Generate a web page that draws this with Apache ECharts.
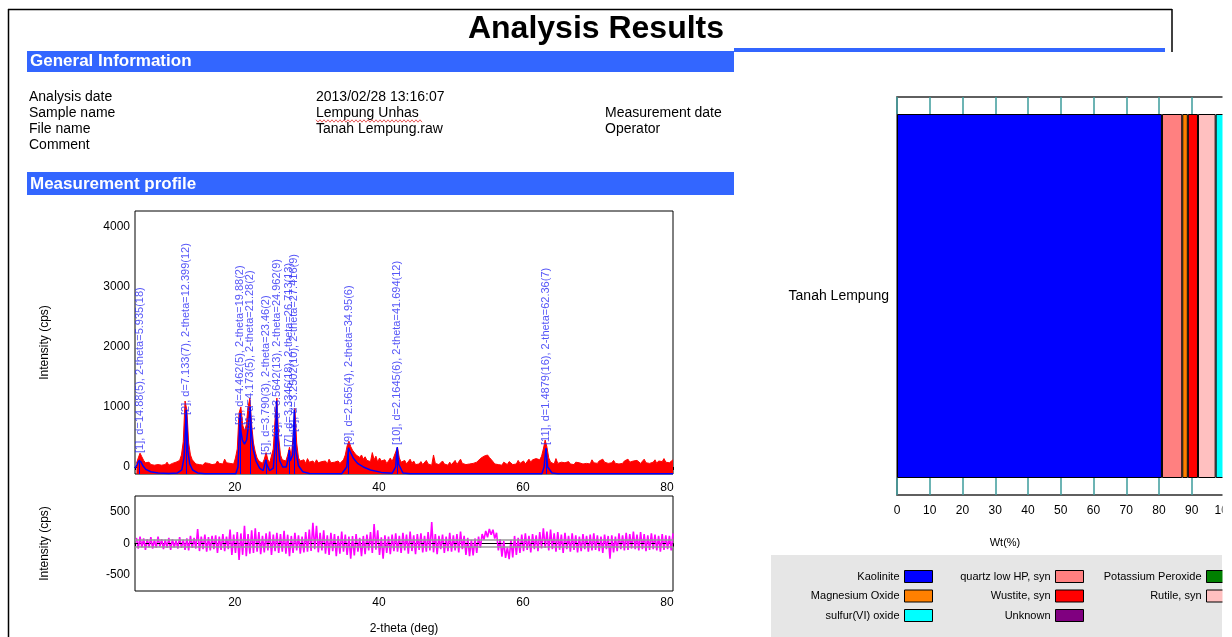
<!DOCTYPE html>
<html><head><meta charset="utf-8">
<script src="https://cdn.jsdelivr.net/npm/echarts@6/dist/echarts.min.js"></script>
<style>html,body{margin:0;padding:0;background:#fff}#c{width:1232px;height:637px}</style>
</head><body><div id="c"></div>
<script>
// ---------- DATA ----------
const startAngle = 5.5, stepAngle = 0.25;   // 2-theta of first sample and step (deg)
const observed = [
 60,150,230,170,110,70,60,80,40,70,30,60,40,70,30,50,
 40,80,30,50,60,40,80,60,110,200,420,1100,950,400,200,120,
 90,50,80,40,60,30,70,40,60,90,40,60,50,100,60,80,
 50,130,70,40,60,90,50,150,300,900,1000,700,600,700,1000,1150,
 700,400,250,150,100,80,60,130,240,120,70,100,300,800,1150,500,
 200,120,150,100,200,330,180,500,980,400,150,100,80,120,60,140,
 80,50,100,60,120,70,50,90,60,100,50,130,70,40,80,50,
 100,60,90,120,200,350,430,340,280,250,200,230,160,200,130,170,
 110,140,90,240,120,180,80,150,100,70,120,60,100,150,90,120,
 250,330,150,80,60,110,50,80,130,60,100,40,70,50,90,40,
 60,110,50,70,30,200,60,90,40,60,100,50,70,30,80,40,
 60,110,40,70,130,60,90,40,60,50,30,60,40,80,100,140,
 120,180,150,200,160,130,90,50,70,40,60,30,80,50,40,90,
 60,40,70,50,110,60,80,100,50,90,130,80,120,90,140,110,
 120,180,300,450,330,150,80,90,50,140,60,40,80,50,70,40,
 90,50,60,40,80,50,70,100,50,80,60,90,50,120,70,90,
 60,100,70,130,80,100,60,90,70,110,60,90,50,80,60,100,
 70,130,80,60,100,70,110,80,60,90,130,70,100,60,90,80,
 120,60,100,70,90,140,80,110,70,100,120
];
const residual = [
 90,-80,110,-60,80,-100,70,-60,100,-80,60,-70,110,-50,70,-90,
 60,-70,90,-100,70,-60,50,-80,100,-70,60,-100,80,-110,120,-70,
 90,-80,230,-120,110,-90,140,-130,100,-110,120,-90,130,-150,110,-100,
 150,-120,110,-90,220,-180,140,-150,180,-260,160,-180,280,-200,150,-160,
 210,-150,240,-130,180,-170,120,-140,160,-110,190,-180,140,-120,170,-150,
 150,-130,200,-160,140,-200,120,-150,170,-110,130,-160,110,-140,180,-130,
 220,-120,330,-90,280,-140,170,-110,210,-160,130,-180,170,-120,150,-200,
 120,-160,190,-130,140,-180,110,-240,120,-190,150,-130,90,-200,120,-170,
 140,-110,180,-150,310,-100,210,-180,100,-240,130,-150,110,-170,140,-120,
 160,-130,120,-150,170,-110,140,-160,190,-120,130,-170,150,-100,160,-140,
 120,-130,180,-110,340,-140,150,-170,120,-90,140,-150,110,-120,170,-130,
 130,-110,150,-140,190,-90,120,-180,90,-200,60,-190,80,-150,110,-70,
 150,60,200,100,230,140,220,80,170,-110,70,-210,40,-230,-60,-250,
 60,-220,120,-180,90,-150,140,-120,160,-100,120,-140,150,-90,130,-120,
 180,-80,240,-70,190,-110,220,-90,160,-130,180,-100,140,-150,170,-90,
 120,-130,160,-100,130,-140,110,-120,150,-90,120,-130,140,-110,160,-100,
 130,-120,110,-150,140,-90,120,-240,130,-140,110,-120,160,-90,130,-110,
 170,-100,150,-80,190,-90,140,-110,180,-90,150,-120,130,-100,160,-90,
 140,-110,120,-130,150,-100,130,-90,120,-110,160
];
const calcProfile = [
 [5.3,-20],[5.6,40],[5.8,100],[5.95,120],[6.1,90],[6.4,20],[6.8,-40],[7.5,-80],[8.5,-100],[10,-110],
 [11.2,-100],[11.8,-50],[12.1,150],[12.3,600],[12.4,950],[12.5,700],[12.65,250],[12.9,50],[13.3,-50],[14,-100],
 [15,-112],[19.3,-112],[19.6,0],[19.8,600],[19.88,900],[20.0,600],[20.2,450],[20.5,380],[20.8,450],[21.1,750],
 [21.28,1000],[21.45,600],[21.7,300],[22.1,100],[22.6,-20],[23.1,-60],[23.35,60],[23.46,120],[23.6,40],[24.0,-60],
 [24.5,-20],[24.8,400],[24.96,1100],[25.1,500],[25.4,100],[25.8,0],[26.3,0],[26.6,150],[26.71,280],[26.85,100],
 [27.2,200],[27.416,950],[27.6,300],[28.0,20],[28.6,-80],[29.5,-110],[34,-112],[34.7,0],[34.95,320],[35.2,250],
 [35.6,150],[36.2,60],[37,0],[38,-50],[39.5,-90],[41,-105],[41.5,0],[41.694,330],[41.9,50],[42.5,-100],
 [43.5,-112],[61.8,-112],[62.1,0],[62.36,310],[62.6,0],[63.2,-100],[64,-112],[80,-112]
];
const peakAngles = [5.935,12.399,19.88,21.28,23.46,24.962,26.713,27.416,34.95,41.694,62.36];
const peakTops   = [120,950,900,1000,120,1100,280,950,320,330,310];
const peakLabelBase = [233,867,700,617,200,500,333,583,367,367,367];
const peakLabels = [
 '[1], d=14.88(5), 2-theta=5.935(18)',
 '[2], d=7.133(7), 2-theta=12.399(12)',
 '[3], d=4.462(5), 2-theta=19.88(2)',
 '[4], d=4.173(5), 2-theta=21.28(2)',
 '[5], d=3.790(3), 2-theta=23.46(2)',
 '[6], d=3.5642(13), 2-theta=24.962(9)',
 '[7], d=3.3346(18), 2-theta=26.713(13)',
 '[8], d=3.2502(10), 2-theta=27.416(9)',
 '[9], d=2.565(4), 2-theta=34.95(6)',
 '[10], d=2.1645(6), 2-theta=41.694(12)',
 '[11], d=1.4879(16), 2-theta=62.36(7)'
];
const residualBand = [-55, 55];
const sampleNames = ['Tanah Lempung'];
const phases = ['Kaolinite','quartz low HP, syn','Magnesium Oxide','Wustite, syn','Rutile, syn','sulfur(VI) oxide','Potassium Peroxide','Unknown'];
const phaseWt = [80.9, 6.2, 1.7, 3.1, 5.4, 2.7, 0, 0];
const phaseColors = ['#0000ff','#ff8080','#ff8000','#ff0000','#ffc0c0','#00ffff','#008000','#800080'];
const legendCols = [
 ['Kaolinite','Magnesium Oxide','sulfur(VI) oxide'],
 ['quartz low HP, syn','Wustite, syn','Unknown'],
 ['Potassium Peroxide','Rutile, syn']
];
const infoLabels = ['Analysis date','Sample name','File name','Comment'];
const infoValues = ['2013/02/28 13:16:07','Lempung Unhas','Tanah Lempung.raw'];
const infoLabels2 = ['','Measurement date','Operator'];

// ---------- CHART ----------
const FONT = '"Liberation Sans", Arial, Helvetica, sans-serif';
const MAIN_MIN = -117, MAIN_MAX = 4267;
const obsPairs = observed.map((v,i)=>[startAngle + i*stepAngle, v]);
const resPairs = residual.map((v,i)=>[startAngle + i*stepAngle, v]);

const BLUE = '#3366ff';
const g = [];
g.push({type:'line', shape:{x1:8,y1:9.5,x2:1172,y2:9.5}, style:{stroke:'#000',lineWidth:1.5}});
g.push({type:'line', shape:{x1:8.5,y1:9,x2:8.5,y2:637}, style:{stroke:'#000',lineWidth:1.5}});
g.push({type:'line', shape:{x1:1172,y1:9,x2:1172,y2:52}, style:{stroke:'#000',lineWidth:1.5}});
g.push({type:'text', x:596, y:29, style:{text:'Analysis Results', font:'bold 32px '+FONT, textAlign:'center', textVerticalAlign:'middle', align:'center', verticalAlign:'middle', fill:'#000'}});
g.push({type:'rect', shape:{x:734,y:48,width:431,height:4}, style:{fill:BLUE}});
g.push({type:'rect', shape:{x:27,y:51,width:707,height:21}, style:{fill:BLUE}});
g.push({type:'text', x:30, y:61.5, style:{text:'General Information', font:'bold 17px '+FONT, textVerticalAlign:'middle', verticalAlign:'middle', fill:'#fff'}});
g.push({type:'rect', shape:{x:27,y:172,width:707,height:23}, style:{fill:BLUE}});
g.push({type:'text', x:30, y:184, style:{text:'Measurement profile', font:'bold 17px '+FONT, textVerticalAlign:'middle', verticalAlign:'middle', fill:'#fff'}});
infoLabels.forEach((t,i)=>g.push({type:'text', x:29, y:97+16*i, style:{text:t, font:'14px '+FONT, textVerticalAlign:'middle', verticalAlign:'middle', fill:'#000'}}));
infoValues.forEach((t,i)=>g.push({type:'text', x:316, y:97+16*i, style:{text:t, font:'14px '+FONT, textVerticalAlign:'middle', verticalAlign:'middle', fill:'#000'}}));
infoLabels2.forEach((t,i)=>g.push({type:'text', x:605, y:97+16*i, style:{text:t, font:'14px '+FONT, textVerticalAlign:'middle', verticalAlign:'middle', fill:'#000'}}));
// spell-check squiggle under sample name
const sq = []; for (let x=316, k=0; x<=422; x+=2, k++) sq.push([x, 121 + (k%2 ? 1.2 : -1.2)]);
g.push({type:'polyline', shape:{points:sq}, style:{stroke:'#e03030', lineWidth:0.8, fill:null}});
// legend background
g.push({type:'rect', shape:{x:771,y:555,width:451,height:82}, style:{fill:'#e6e6e6'}, z:0});
// weight axis title
g.push({type:'text', x:1005, y:543, style:{text:'Wt(%)', font:'11px '+FONT, textAlign:'center', textVerticalAlign:'middle', align:'center', verticalAlign:'middle', fill:'#000'}});
// right side crop
g.push({type:'rect', shape:{x:1222.5,y:53,width:12,height:584}, style:{fill:'#fff'}, z:100});

const axisText = {color:'#000', fontSize:12, fontFamily:FONT};

const series = [
 {type:'line', name:'obs', xAxisIndex:0, yAxisIndex:0, data:obsPairs, symbol:'none', z:2,
  lineStyle:{color:'#ff0000', width:1}, areaStyle:{color:'#ff0000', opacity:1, origin:'start'}},
 {type:'line', name:'calc', xAxisIndex:0, yAxisIndex:0, data:calcProfile, symbol:'none', z:3,
  lineStyle:{color:'#0000ff', width:1.5},
  markLine:{silent:true, symbol:['none','none'], label:{show:false}, lineStyle:{color:'#0000ff', width:1, type:'solid'},
   data: peakAngles.map((a,i)=>[{coord:[a, MAIN_MIN]},{coord:[a, peakTops[i]]}])}},
 {type:'scatter', name:'peaks', xAxisIndex:0, yAxisIndex:0, symbolSize:1, itemStyle:{color:'rgba(0,0,0,0)'}, z:4,
  data: peakAngles.map((a,i)=>[a, peakLabelBase[i]]),
  label:{show:true, position:'inside', rotate:90, align:'left', verticalAlign:'middle', color:'#2a2af5', fontSize:11, fontFamily:FONT,
   formatter: p => peakLabels[p.dataIndex]}},
 {type:'line', name:'res', xAxisIndex:1, yAxisIndex:1, data:resPairs, symbol:'none', z:2,
  lineStyle:{color:'#ff00ff', width:1.6},
  markLine:{silent:true, symbol:['none','none'], label:{show:false},
   data:[{yAxis:residualBand[0], lineStyle:{color:'#999', width:1.5, type:'solid'}},
         {yAxis:residualBand[1], lineStyle:{color:'#999', width:1.5, type:'solid'}},
         {yAxis:0, lineStyle:{color:'#000', width:1, type:[3,8]}}]}}
];
phases.forEach((p,i)=>series.push({
 type:'bar', name:p, xAxisIndex:2, yAxisIndex:2, stack:'wt', barWidth:364,
 data:[phaseWt[i]], itemStyle:{color:phaseColors[i], borderColor:'#000', borderWidth:1}
}));

const legends = legendCols.map((col,i)=>({
 orient:'vertical', align:'right', right:[299,148,-3][i], top:570, padding:0,
 itemWidth:28, itemHeight:12, itemGap:6.5, icon:'rect', selectedMode:false, data:col,
 itemStyle:{borderColor:'#000', borderWidth:1},
 textStyle:{color:'#000', fontSize:11, fontFamily:FONT, lineHeight:12}
}));

const option = {
 animation:false,
 textStyle:{fontFamily:FONT},
 graphic: g,
 legend: legends,
 grid:[
  {left:135, top:211, width:538, height:263, show:true, borderColor:'#000', borderWidth:1, outerBoundsMode:'none'},
  {left:135, top:496, width:538, height:95, show:true, borderColor:'#000', borderWidth:1, outerBoundsMode:'none'},
  {left:897, top:97, width:327.5, height:398, show:true, borderColor:'#555', borderWidth:1.5, outerBoundsMode:'none'}
 ],
 xAxis:[
  {gridIndex:0, type:'value', min:5.3, max:80, minInterval:20, maxInterval:20, axisLine:{show:true, lineStyle:{color:'#000', width:1}},
   axisTick:{show:true, length:3, lineStyle:{color:'#000'}}, splitLine:{show:false},
   axisLabel:Object.assign({formatter:v=> (v%20===0 ? String(v) : ''), margin:8, padding:[0,12,0,0]}, axisText)},
  {gridIndex:1, type:'value', min:5.3, max:80, minInterval:20, maxInterval:20, axisLine:{show:true, lineStyle:{color:'#000', width:1}},
   axisTick:{show:true, length:3, lineStyle:{color:'#000'}}, splitLine:{show:false},
   axisLabel:Object.assign({formatter:v=> (v%20===0 ? String(v) : ''), margin:6, padding:[0,12,0,0]}, axisText),
   name:'2-theta (deg)', nameLocation:'middle', nameGap:32, nameTextStyle:axisText},
  {gridIndex:2, type:'value', min:0, max:100, interval:10, position:'bottom', axisLine:{show:true, lineStyle:{color:'#555', width:1.5}},
   axisTick:{show:true, inside:true, length:17, lineStyle:{color:'#3d9c9c', width:1.5}}, splitLine:{show:false},
   axisLabel:Object.assign({margin:10}, axisText)},
  {gridIndex:2, type:'value', min:0, max:100, interval:10, position:'top', axisLine:{show:true, lineStyle:{color:'#555', width:1.5}},
   axisTick:{show:true, inside:true, length:17, lineStyle:{color:'#3d9c9c', width:1.5}}, splitLine:{show:false},
   axisLabel:{show:false}}
 ],
 yAxis:[
  {gridIndex:0, type:'value', min:MAIN_MIN, max:MAIN_MAX, minInterval:1000, maxInterval:1000,
   axisLine:{show:false}, axisTick:{show:false}, splitLine:{show:false},
   axisLabel:Object.assign({formatter:v=> (v>=0 && v%1000===0 ? String(v) : ''), margin:5}, axisText),
   name:'Intensity (cps)', nameLocation:'middle', nameGap:84, nameRotate:90, nameTextStyle:axisText},
  {gridIndex:1, type:'value', min:-755, max:755, minInterval:500, maxInterval:500,
   axisLine:{show:false}, axisTick:{show:false}, splitLine:{show:false},
   axisLabel:Object.assign({formatter:v=> (v%500===0 ? String(v) : ''), margin:5}, axisText),
   name:'Intensity (cps)', nameLocation:'middle', nameGap:84, nameRotate:90, nameTextStyle:axisText},
  {gridIndex:2, type:'category', data:sampleNames, axisLine:{show:false}, axisTick:{show:false},
   axisLabel:{margin:8, color:'#000', fontSize:14, fontFamily:FONT}}
 ],
 series: series
};
const chart = echarts.init(document.getElementById('c'), null, {renderer:'canvas'});
chart.setOption(option);
</script></body></html>
